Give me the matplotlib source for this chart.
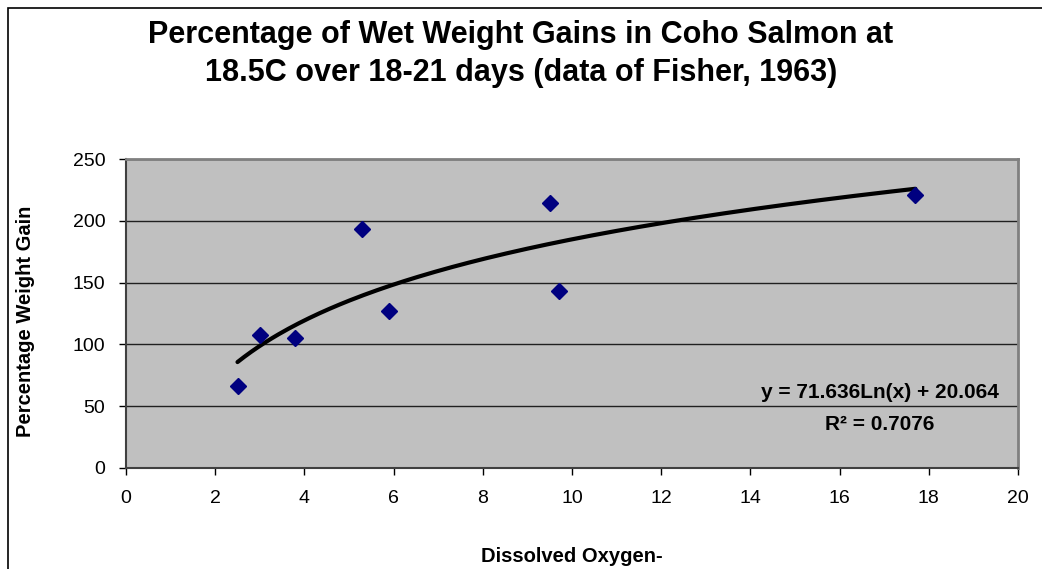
import numpy as np
import matplotlib.pyplot as plt
from matplotlib.patches import Rectangle

plt.rcParams['font.family'] = ['Liberation Sans', 'DejaVu Sans']

# Data
oxygen = [2.5, 3.0, 3.8, 5.3, 5.9, 9.5, 9.7, 17.7]
weight_gain = [66, 108, 105, 193, 127, 214, 143, 221]

# Logarithmic trendline shown on the chart
trend_a = 71.636
trend_b = 20.064
r_squared = 0.7076

x_ticks = [0, 2, 4, 6, 8, 10, 12, 14, 16, 18, 20]
y_ticks = [0, 50, 100, 150, 200, 250]

fig = plt.figure(figsize=(10.42, 5.69), dpi=100)
W, H = 1042, 569

# outer chart border (right/bottom run off the picture)
fig.patches.append(Rectangle((8 / W, -0.1), 1.2, 1 - 8 / H + 0.1,
                             transform=fig.transFigure, fill=False,
                             edgecolor='black', linewidth=1.2))

ax = fig.add_axes([126 / W, 1 - 468 / H, (1018 - 126) / W, (468 - 159) / H])
ax.set_facecolor('#c0c0c0')

xs = np.linspace(min(oxygen), max(oxygen), 200)
ax.plot(xs, trend_a * np.log(xs) + trend_b, color='black', linewidth=3,
        solid_capstyle='round', zorder=3)
ax.plot(oxygen, weight_gain, linestyle='none', marker='D', markersize=8.5,
        color='#000080', zorder=4)

ax.set_xlim(0, 20)
ax.set_ylim(0, 250)
ax.set_xticks(x_ticks)
ax.set_yticks(y_ticks)
ax.yaxis.grid(True, color='#202020', linewidth=1)
ax.set_axisbelow(True)

for side in ['top', 'right']:
    ax.spines[side].set_color('#808080')
    ax.spines[side].set_linewidth(2)
for side in ['left', 'bottom']:
    ax.spines[side].set_color('#404040')
    ax.spines[side].set_linewidth(1.5)

ax.tick_params(axis='both', direction='out', length=5, width=1,
               labelsize=14, colors='black')
ax.tick_params(axis='y', pad=10)
ax.tick_params(axis='x', pad=11)

fig.text(572 / W, 1 - 556 / H, 'Dissolved Oxygen-', ha='center', va='center',
         fontsize=14.5, fontweight='bold')
fig.text(25.5 / W, 1 - 321.5 / H, 'Percentage Weight Gain', ha='center',
         va='center', rotation=90, fontsize=14.5, fontweight='bold')

ax.text(0.845, 0.243, 'y = 71.636Ln(x) + 20.064', transform=ax.transAxes,
        ha='center', va='center', fontsize=15, fontweight='bold')
ax.text(0.845, 0.142, 'R² = 0.7076', transform=ax.transAxes,
        ha='center', va='center', fontsize=15, fontweight='bold')

fig.text(0.5, 1 - 54 / H,
         'Percentage of Wet Weight Gains in Coho Salmon at\n18.5C over 18-21 days (data of Fisher, 1963)',
         ha='center', va='center', fontsize=22, fontweight='bold', linespacing=1.32)

fig.savefig('out.png', dpi=100)
